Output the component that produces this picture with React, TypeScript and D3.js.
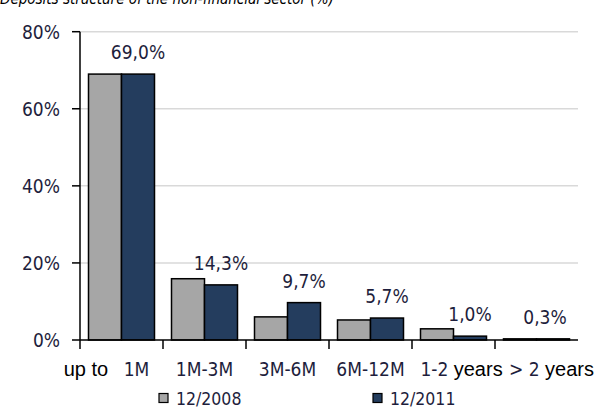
import React from "react";
import * as d3 from "d3";

const categories = ["up to 1M", "1M-3M", "3M-6M", "6M-12M", "1-2 years", "> 2 years"];
const series2008 = [69.0, 15.9, 6.0, 5.2, 2.9, 0.3];
const series2011 = [69.0, 14.3, 9.7, 5.7, 1.0, 0.3];
const labels2011 = ["69,0%", "14,3%", "9,7%", "5,7%", "1,0%", "0,3%"];
const yTicks = [0, 20, 40, 60, 80];
const seriesNames = ["12/2008", "12/2011"];
const title = "Deposits structure of the non-financial sector (%)";

const W = 599;
const H = 408;
const left = 80;
const right = 578;
const top = 31.7;
const bottom = 340;
const GRAY = "#a6a6a6";
const NAVY = "#243d5e";
const TXT = "#1e1e3c";
const FONT = "'DejaVu Sans Condensed', 'DejaVu Sans', sans-serif";
const WORDFONT = "'Liberation Sans', Arial, sans-serif";

const labelOffsets = [-15, 0, 0, 0, 8, 15];

export default function App() {
  const x = d3
    .scaleBand<string>()
    .domain(categories)
    .range([left, right])
    .paddingInner(17 / 83)
    .paddingOuter(17 / 166);
  const y = d3.scaleLinear().domain([0, 80]).range([bottom, top]);
  const bw = x.bandwidth() / 2;

  const renderLabel = (c: string) => {
    const parts = c.split(/(up to|years)/).filter((p) => p.length > 0);
    return parts.map((p, i) => {
      const isWord = p === "up to" || p === "years";
      const afterUpTo = i > 0 && parts[i - 1] === "up to";
      return (
        <tspan
          key={i}
          dx={afterUpTo ? 10 : 0}
          fontFamily={isWord ? WORDFONT : FONT}
          fill={isWord ? "#000" : TXT}
          fontSize={isWord ? 20 : 19}
        >
          {p}
        </tspan>
      );
    });
  };

  return (
    <svg width={W} height={H} style={{ position: "absolute", left: 0, top: 0, background: "#fff" }}>
      <text x={0} y={4} fontFamily={FONT} fontStyle="italic" fontSize={15} fill="#000">
        {title}
      </text>
      {yTicks.slice(1).map((t) => (
        <line key={t} x1={left} x2={right} y1={y(t)} y2={y(t)} stroke="#d9d9d9" strokeWidth={1.5} />
      ))}
      {categories.map((c, i) => {
        const x0 = x(c)!;
        return (
          <g key={c}>
            <rect
              x={x0}
              y={y(series2008[i])}
              width={bw}
              height={y(0) - y(series2008[i])}
              fill={GRAY}
              stroke="#000"
              strokeWidth={1.5}
            />
            <rect
              x={x0 + bw}
              y={y(series2011[i])}
              width={bw}
              height={y(0) - y(series2011[i])}
              fill={NAVY}
              stroke="#000"
              strokeWidth={1.5}
            />
            <text
              x={x0 + bw * 1.5 - (i === 5 ? 8 : 0)}
              y={y(series2011[i]) - 15}
              textAnchor="middle"
              fontFamily={FONT}
              fontSize={19}
              fill={TXT}
            >
              {labels2011[i]}
            </text>
          </g>
        );
      })}
      <line x1={left} x2={left} y1={top} y2={bottom} stroke="#000" strokeWidth={1.5} />
      <line x1={left} x2={right} y1={bottom} y2={bottom} stroke="#000" strokeWidth={1.5} />
      {yTicks.map((t) => (
        <g key={t}>
          <line x1={left - 8} x2={left} y1={y(t)} y2={y(t)} stroke="#000" strokeWidth={1.5} />
          <text x={60} y={y(t) + 7} textAnchor="end" fontFamily={FONT} fontSize={19} fill={TXT}>
            {t}%
          </text>
        </g>
      ))}
      {categories.map((c, i) => {
        const x0 = x(c)! - (x.step() - x.bandwidth()) / 2;
        return (
          <line key={"t" + i} x1={x0} x2={x0} y1={bottom} y2={bottom + 9} stroke="#000" strokeWidth={1.5} />
        );
      })}
      {categories.map((c, i) => (
        <text
          key={"l" + i}
          x={x(c)! + x.bandwidth() / 2 + labelOffsets[i]}
          y={376}
          textAnchor="middle"
        >
          {renderLabel(c)}
        </text>
      ))}
      {seriesNames.map((s, i) => {
        const lx = i === 0 ? 159 : 373;
        return (
          <g key={s}>
            <rect x={lx} y={393.5} width={9} height={9} fill={i === 0 ? GRAY : NAVY} stroke="#000" strokeWidth={1.2} />
            <text x={lx + 17} y={404.5} fontFamily={FONT} fontSize={17.5} fill={TXT}>
              {s}
            </text>
          </g>
        );
      })}
    </svg>
  );
}
